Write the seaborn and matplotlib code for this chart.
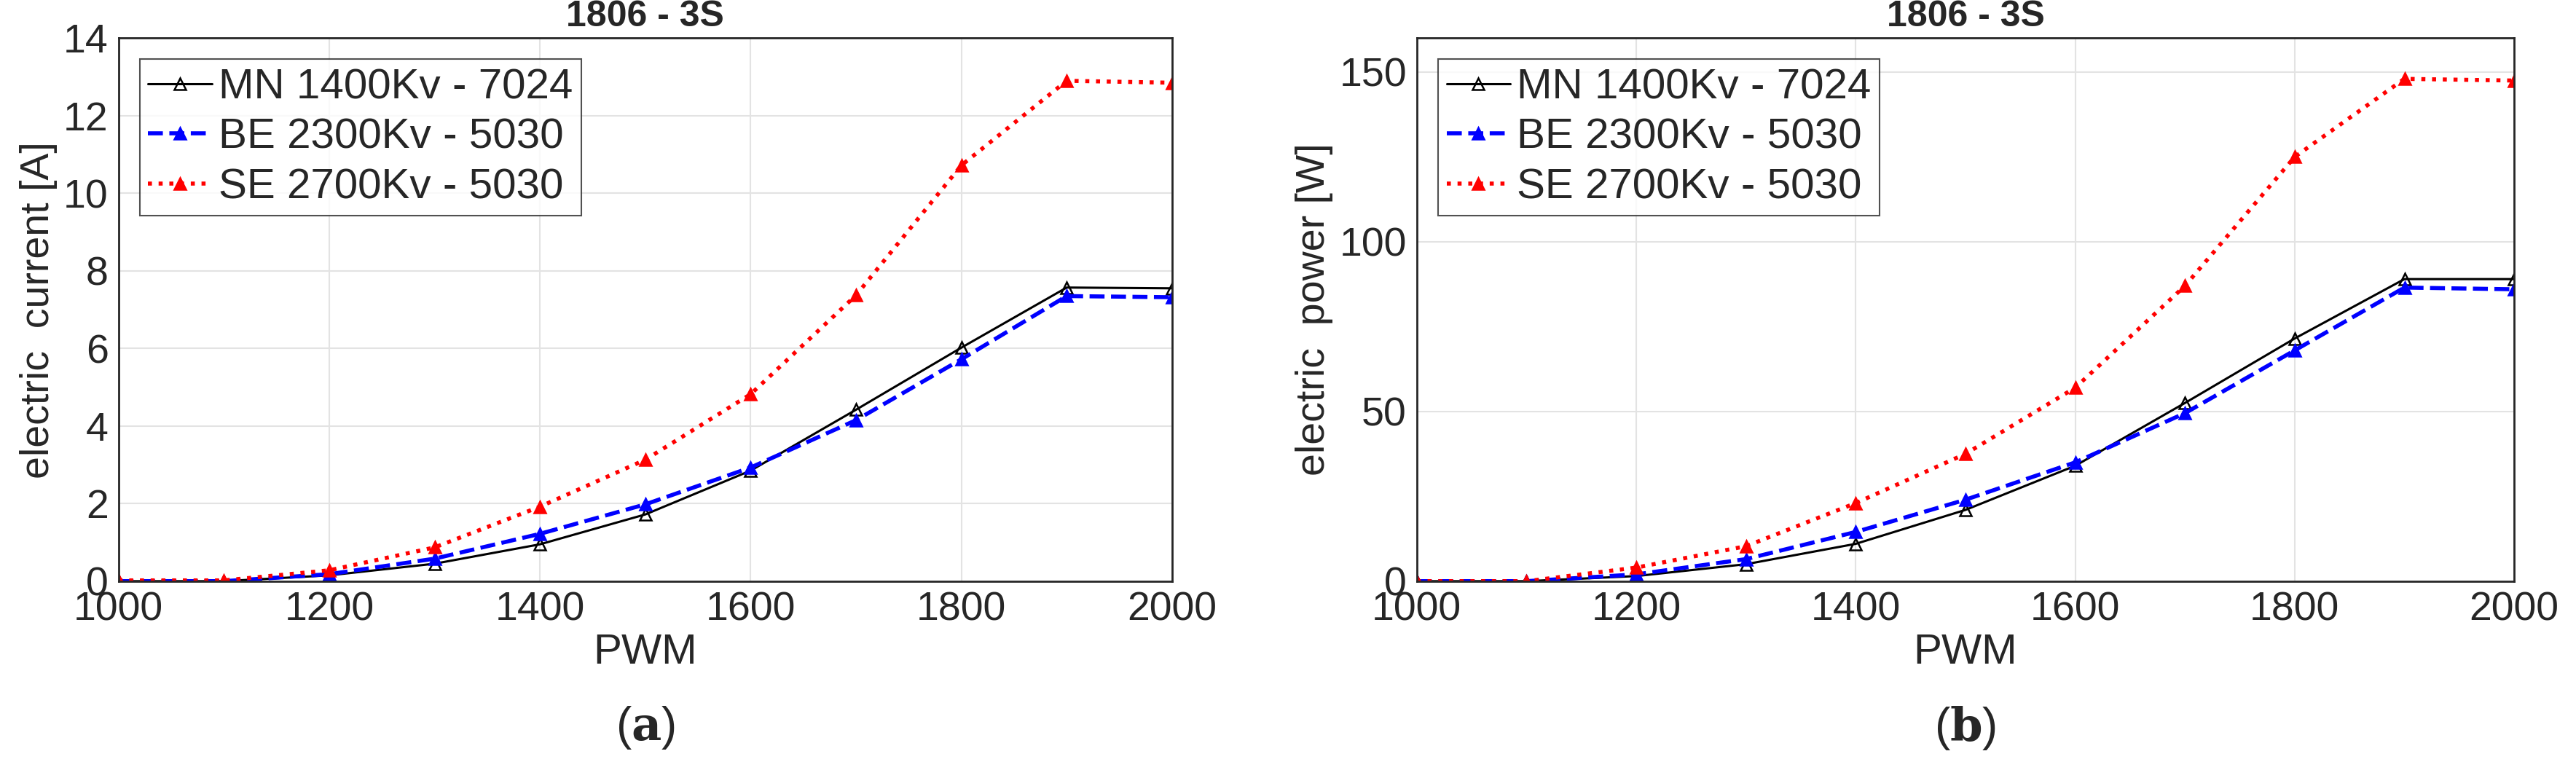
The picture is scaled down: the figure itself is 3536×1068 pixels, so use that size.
import matplotlib
matplotlib.use("Agg")
import matplotlib.pyplot as plt
import seaborn as sns
import pandas as pd

pwm = [1000, 1100, 1200, 1300, 1400, 1500, 1600, 1700, 1800, 1900, 2000]
series_names = ["MN 1400Kv - 7024", "BE 2300Kv - 5030", "SE 2700Kv - 5030"]
current_mn = [0, 0, 0.15, 0.45, 0.95, 1.72, 2.85, 4.42, 6.02, 7.57, 7.55]
current_be = [0, 0, 0.18, 0.58, 1.22, 1.98, 2.93, 4.15, 5.72, 7.35, 7.32]
current_se = [0.02, 0.02, 0.28, 0.87, 1.92, 3.13, 4.82, 7.37, 10.72, 12.9, 12.85]
power_mn = [0, 0, 1.5, 5, 11, 21, 34, 52.5, 71.5, 89, 89]
power_be = [0, 0, 2, 6.5, 14.5, 24, 35, 49.5, 68, 86.5, 86]
power_se = [0, 0, 4, 10.3, 23, 37.5, 57, 87, 125, 148, 147.5]

sns.set_theme(style="whitegrid")
plt.rcParams['font.family'] = ['Liberation Sans Narrow', 'Liberation Sans', 'DejaVu Sans']
plt.rcParams['mathtext.fontset'] = 'dejavuserif'

colors = ["black", "blue", "red"]
styles = ["-", "--", ":"]
mfc = ["none", "blue", "red"]
lws = [2.2, 4, 4]

fig = plt.figure(figsize=(35.36, 10.68), dpi=100)
ax1 = fig.add_axes([0.046, 0.253, 0.409, 0.698])
ax2 = fig.add_axes([0.55, 0.253, 0.426, 0.698])

def draw(ax, data, ylabel, ylim, yticks, letter):
    for name, vals, c, ls, f, lw in zip(series_names, data, colors, styles, mfc, lws):
        df = pd.DataFrame({"PWM": pwm, "v": vals})
        sns.lineplot(data=df, x="PWM", y="v", ax=ax, color=c, linestyle=ls, lw=lw,
                     marker="^", markersize=12, markerfacecolor=f, markeredgecolor=c,
                     markeredgewidth=1.8, label=name)
    ax.set_xlim(1000, 2000)
    ax.set_ylim(*ylim)
    ax.set_xticks(range(1000, 2001, 200))
    ax.set_yticks(yticks)
    ax.tick_params(labelsize=40, direction="in", length=10, colors="#262626", pad=10)
    ax.grid(True, color="#e3e3e3", lw=1.5)
    for s in ax.spines.values():
        s.set_color("#262626"); s.set_linewidth(2)
    ax.set_xlabel("PWM", fontsize=42, color="#262626", labelpad=4)
    ax.set_ylabel(ylabel, fontsize=40, color="#262626", family=['Liberation Sans', 'DejaVu Sans'], labelpad=6)
    ax.set_title("1806 - 3S", fontsize=36, fontweight="bold", pad=12)
    leg = ax.legend(loc="upper left", fontsize=42, frameon=True, fancybox=False,
                    edgecolor="#262626", handlelength=1.5, handletextpad=0.15,
                    borderpad=0.2, labelspacing=0.25, borderaxespad=0.5)
    leg.get_frame().set_linewidth(1.5)
    ax.text(0.5, -0.27, rf"($\mathbf{{{letter}}}$)", transform=ax.transAxes, ha="center", va="center",
            fontsize=46)

draw(ax1, [current_mn, current_be, current_se], "electric  current [A]", (0, 14), range(0, 15, 2), "a")
draw(ax2, [power_mn, power_be, power_se], "electric  power [W]", (0, 160), [0, 50, 100, 150], "b")
fig.savefig("out.png", dpi=100)
